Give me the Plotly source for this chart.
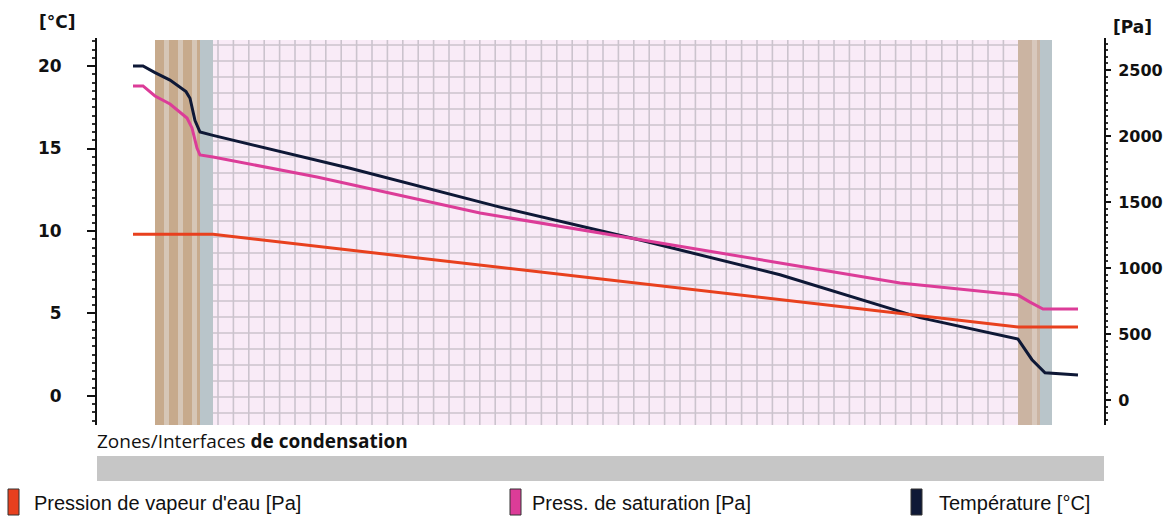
import plotly.graph_objects as go

# ---------------- data ----------------
# x positions: abscissa through the wall (arbitrary units, 0 = left axis)
pos_temp = [36, 46, 58, 73, 89, 93, 98, 103, 116, 253, 403, 543, 683, 823, 921, 935, 948, 981]
temperature = [20.0, 20.0, 19.6, 19.15, 18.45, 18.05, 16.7, 16.0, 15.8, 13.8, 11.45, 9.45,
               7.35, 4.75, 3.45, 2.2, 1.4, 1.27]

pos_sat = [36, 46, 58, 73, 90, 95, 100, 103, 116, 220, 383, 543, 683, 803, 921, 933, 946, 981]
p_saturation = [2379, 2379, 2303, 2242, 2136, 2061, 1909, 1856, 1841, 1689, 1417, 1212,
                1038, 886, 795, 742, 689, 689]

pos_vap = [36, 116, 921, 981]
p_vapour = [1255, 1255, 553, 553]

# layer boundaries (same abscissa units)
layer_bounds = [58, 103, 116, 921, 943, 955]

temp_ticks = [0, 5, 10, 15, 20]
pa_ticks = [0, 500, 1000, 1500, 2000, 2500]

legend_names = ["Pression de vapeur d'eau [Pa]", "Press. de saturation [Pa]", "Température [°C]"]
colors = {"vap": "#e8401e", "sat": "#dc3c98", "temp": "#0e1836"}

# ---------------- layout geometry ----------------
W, H = 1163, 519
L, T = 97, 38
R = W - 1104
B = H - 425
PW = W - L - R
PH = H - T - B


def px2paper_x(px):
    return (px - L) / PW


def px2paper_y(py):
    return (H - B - py) / PH


fig = go.Figure()

fig.add_trace(go.Scatter(x=pos_vap, y=p_vapour, yaxis="y2", mode="lines",
                         line=dict(color=colors["vap"], width=3), name=legend_names[0],
                         showlegend=False))
fig.add_trace(go.Scatter(x=pos_sat, y=p_saturation, yaxis="y2", mode="lines",
                         line=dict(color=colors["sat"], width=3), name=legend_names[1],
                         showlegend=False))
fig.add_trace(go.Scatter(x=pos_temp, y=temperature, yaxis="y", mode="lines",
                         line=dict(color=colors["temp"], width=3), name=legend_names[2],
                         showlegend=False))

shapes = []
b0, b1, b2, b3, b4, b5 = layer_bounds
top = px2paper_y(40)
# left brick-like striped layer
x = b0
k = 0
while x < b1:
    w = 9 if k % 2 == 0 else 5
    shapes.append(dict(type="rect", xref="x", yref="paper", x0=x, x1=min(x + w, b1), y0=0, y1=top,
                       fillcolor="#c7aa8c" if k % 2 == 0 else "#d6c6b6", line=dict(width=0), layer="below"))
    x += w
    k += 1
shapes.append(dict(type="rect", xref="x", yref="paper", x0=b1, x1=b2, y0=0, y1=top,
                   fillcolor="#b9c5ca", line=dict(width=0), layer="below"))
# insulation with grid
shapes.append(dict(type="rect", xref="x", yref="paper", x0=b2, x1=b3, y0=0, y1=top,
                   fillcolor="#f9ebf7", line=dict(width=0), layer="below"))
gx = b2 + 5
while gx < b3:
    shapes.append(dict(type="line", xref="x", yref="paper", x0=gx, x1=gx, y0=0, y1=top,
                       line=dict(color="#cbc3cd", width=1.6), layer="below"))
    gx += 15.4
gy = 45
while gy < 425:
    yy = px2paper_y(gy)
    shapes.append(dict(type="line", xref="x", yref="paper", x0=b2, x1=b3, y0=yy, y1=yy,
                       line=dict(color="#cbc3cd", width=1.6), layer="below"))
    gy += 16
# right layers
shapes.append(dict(type="rect", xref="x", yref="paper", x0=b3, x1=b4, y0=0, y1=top,
                   fillcolor="#cbb4a2", line=dict(width=0), layer="below"))
shapes.append(dict(type="rect", xref="x", yref="paper", x0=b3 + 14, x1=b3 + 19, y0=0, y1=top,
                   fillcolor="#d8c8bc", line=dict(width=0), layer="below"))
shapes.append(dict(type="rect", xref="x", yref="paper", x0=b4, x1=b5, y0=0, y1=top,
                   fillcolor="#b9c5ca", line=dict(width=0), layer="below"))

# condensation zone bar
shapes.append(dict(type="rect", xref="paper", yref="paper", x0=0, x1=1,
                   y0=px2paper_y(481), y1=px2paper_y(456), fillcolor="#c6c6c6", line=dict(width=0)))

# legend boxes
for bx, c in zip([8, 510, 911], [colors["vap"], colors["sat"], colors["temp"]]):
    shapes.append(dict(type="rect", xref="paper", yref="paper", x0=px2paper_x(bx), x1=px2paper_x(bx + 11),
                       y0=px2paper_y(515), y1=px2paper_y(489), fillcolor=c,
                       line=dict(color="#333333", width=1)))

annotations = [
    dict(text="<b>[°C]</b>", x=px2paper_x(57), y=px2paper_y(22), xref="paper", yref="paper",
         xanchor="center", yanchor="middle",
         showarrow=False, font=dict(family="DejaVu Sans", size=17, color="#111")),
    dict(text="<b>[Pa]</b>", x=px2paper_x(1132), y=px2paper_y(27), xref="paper", yref="paper",
         xanchor="center", yanchor="middle",
         showarrow=False, font=dict(family="DejaVu Sans", size=17, color="#111")),
    dict(text="Zones/Interfaces <b>de condensation</b>", x=px2paper_x(95), y=px2paper_y(441),
         xref="paper", yref="paper", xanchor="left", yanchor="middle", showarrow=False,
         font=dict(family="Open Sans", size=19, color="#111")),
]
for tx, name in zip([32, 530, 937], legend_names):
    annotations.append(dict(text=name, x=px2paper_x(tx), y=px2paper_y(503), xref="paper", yref="paper",
                            xanchor="left", yanchor="middle", showarrow=False,
                            font=dict(family="Liberation Sans", size=20, color="#111")))

fig.update_layout(
    width=W, height=H,
    margin=dict(l=L, r=R, t=T, b=B, autoexpand=False),
    paper_bgcolor="white", plot_bgcolor="white",
    showlegend=False,
    xaxis=dict(range=[0, PW], visible=False, fixedrange=True, automargin=False),
    yaxis=dict(range=[-1.76, 21.70], tickvals=temp_ticks, showgrid=False, zeroline=False,
               automargin=False,
               showline=True, linecolor="#111", linewidth=2,
               ticks="outside", ticklen=8, tickwidth=2, tickcolor="#111",
               ticklabelstandoff=22,
               minor=dict(dtick=0.5, ticks="outside", ticklen=3, tickwidth=2, tickcolor="#333"),
               tickfont=dict(family="DejaVu Sans", size=17, color="#111", weight="bold")),
    yaxis2=dict(range=[-189, 2742], tickvals=pa_ticks, overlaying="y", side="right",
                showgrid=False, zeroline=False, automargin=False,
                showline=True, linecolor="#111", linewidth=2,
                ticks="outside", ticklen=5, tickwidth=2, tickcolor="#111",
                ticklabelstandoff=4,
                minor=dict(dtick=50, ticks="outside", ticklen=2, tickwidth=2, tickcolor="#333"),
                tickfont=dict(family="DejaVu Sans", size=16, color="#111", weight="bold")),
    shapes=shapes,
    annotations=annotations,
)

fig.write_html("out.html", config={"displayModeBar": False},
               post_script="document.body.style.margin='0px';document.body.style.overflow='hidden';")
